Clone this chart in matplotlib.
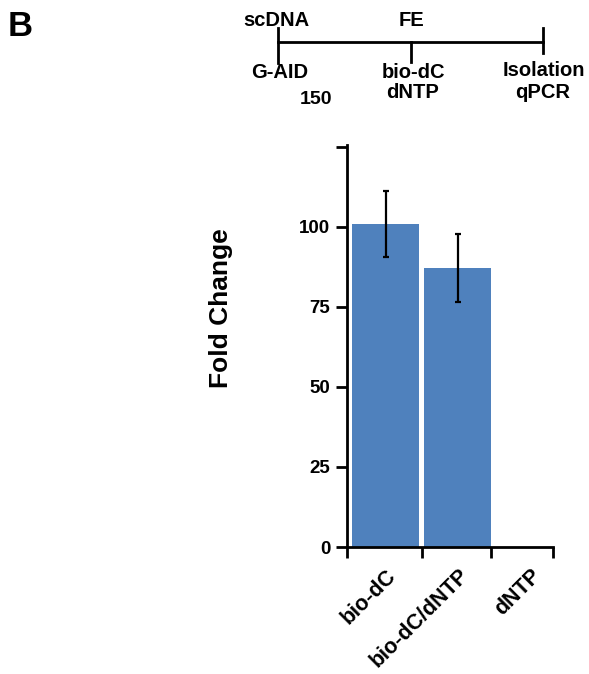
import matplotlib.pyplot as plt
import matplotlib.transforms as mtransforms
from matplotlib.lines import Line2D

plt.rcParams["font.family"] = ["Liberation Sans", "DejaVu Sans"]
plt.rcParams["font.weight"] = "bold"

categories = ["bio-dC", "bio-dC/dNTP", "dNTP"]
fold_change = [100.8, 87.0, 0.0]
fold_err = [10.3, 10.6, 0.0]
y_ticks = [0, 25, 50, 75, 100, 125]
y_tick_labels = ["0", "25", "50", "75", "100", ""]

W, H = 589, 674
fig = plt.figure(figsize=(W / 100, H / 100), dpi=100)

# main bar axes, placed in pixel terms
left, right, bottom, top = 347, 553, 547, 145
ax = fig.add_axes([left / W, 1 - bottom / H, (right - left) / W, (bottom - top) / H])

x = list(range(len(categories)))
ax.bar(x[:2], fold_change[:2], width=0.93, color="#4f81bd", edgecolor="none")
ax.errorbar(x[:2], fold_change[:2], yerr=fold_err[:2], fmt="none",
            ecolor="black", elinewidth=1.6, capsize=2.5, capthick=1.6)

ax.set_xlim(-0.54, 2.32)
ax.set_ylim(0, 125.5)
ax.set_yticks(y_ticks)
ax.set_yticklabels(y_tick_labels)
ax.set_xticks([-0.54, 0.5, 1.46, 2.32])
ax.set_xticklabels([])
ax.set_xticks(x, minor=True)
ax.set_xticklabels(categories, minor=True, rotation=45, ha="right", va="top",
                   rotation_mode="anchor", fontsize=15.5, fontweight="bold")
shift = mtransforms.ScaledTranslation(10 / 100, 0, fig.dpi_scale_trans)
for lab in ax.get_xticklabels(minor=True):
    lab.set_transform(lab.get_transform() + shift)
ax.tick_params(axis="x", which="minor", length=0, pad=13)
ax.tick_params(axis="both", which="major", direction="out", length=8, width=2,
               labelsize=13.5, pad=4)
for s in ["top", "right"]:
    ax.spines[s].set_visible(False)
for s in ["left", "bottom"]:
    ax.spines[s].set_linewidth(2)
ax.set_ylabel("Fold Change", fontsize=19, fontweight="bold")
ax.yaxis.set_label_coords(-0.553, 0.5945)

# overlay for the timeline and panel letter
ov = fig.add_axes([0, 0, 1, 1], facecolor="none")
ov.set_xlim(0, W)
ov.set_ylim(H, 0)
ov.axis("off")

ov.add_line(Line2D([278, 543], [42, 42], color="black", lw=2))
ov.add_line(Line2D([278, 278], [28, 63], color="black", lw=2))
ov.add_line(Line2D([411, 411], [42, 62], color="black", lw=2))
ov.add_line(Line2D([543, 543], [28, 53], color="black", lw=2))

tl_font = dict(fontsize=14.5, fontweight="bold", ha="center", va="center")
ov.text(276, 20, "scDNA", **tl_font)
ov.text(411, 20, "FE", **tl_font)
ov.text(280, 73, "G-AID", **tl_font)
ov.text(413, 73, "bio-dC", **tl_font)
ov.text(413, 93, "dNTP", **tl_font)
ov.text(544, 71, "Isolation", **tl_font)
ov.text(543, 93, "qPCR", **tl_font)
ov.text(316, 99, "150", fontsize=14, fontweight="bold", ha="center", va="center")
ov.text(20, 26, "B", fontsize=25, fontweight="bold", ha="center", va="center")

fig.savefig("out.png", dpi=100)
